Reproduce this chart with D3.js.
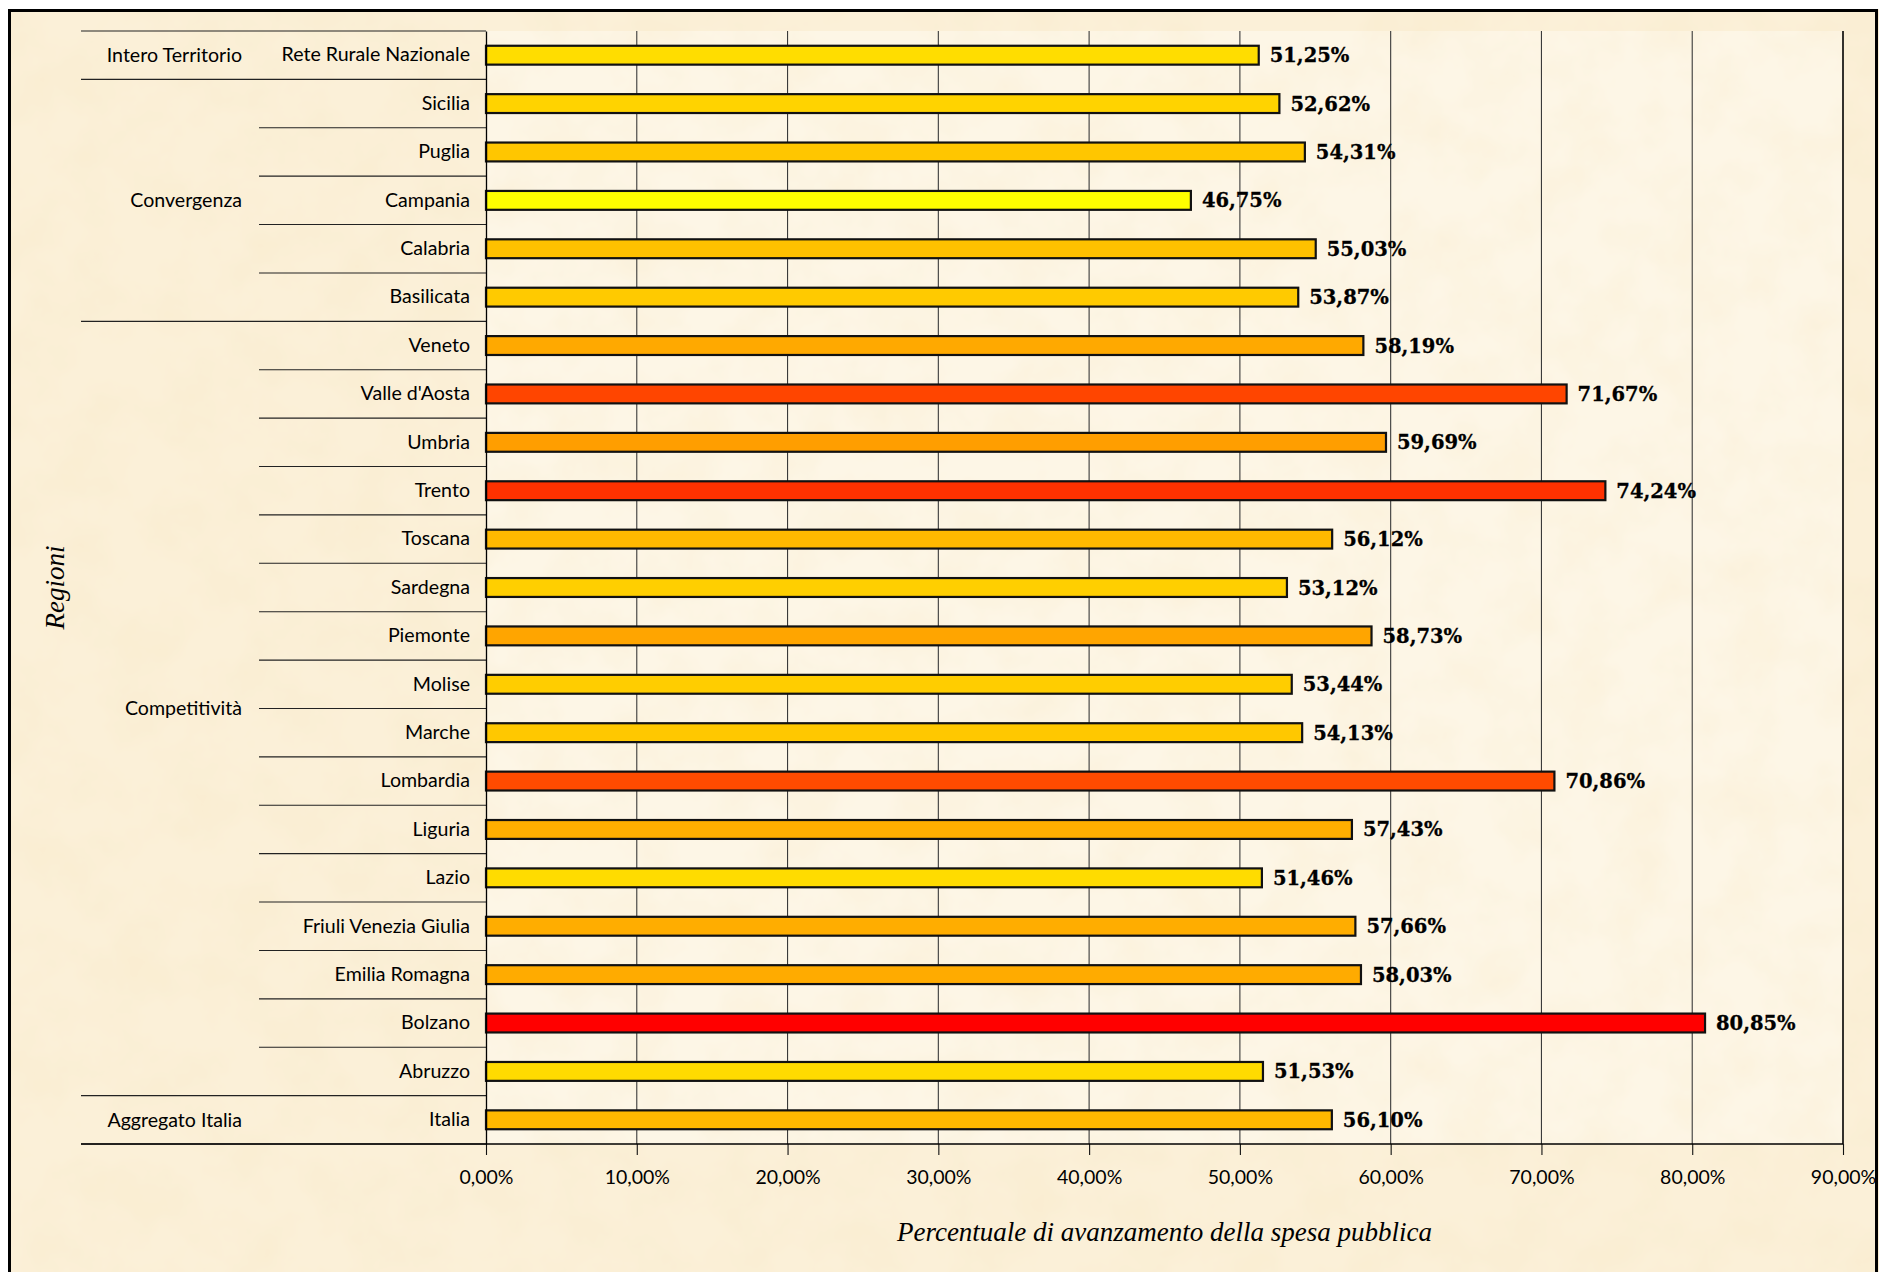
<!DOCTYPE html>
<html>
<head>
<meta charset="utf-8">
<script src="https://cdn.jsdelivr.net/npm/d3@7"></script>
<style>
  html, body { margin: 0; padding: 0; background: #ffffff; }
  svg { display: block; }
</style>
</head>
<body>
<svg id="chart" width="1879" height="1272"></svg>
<script>
// Regions, in display order from top to bottom
const regions = [
  "Rete Rurale Nazionale", "Sicilia", "Puglia", "Campania", "Calabria", "Basilicata",
  "Veneto", "Valle d'Aosta", "Umbria", "Trento", "Toscana", "Sardegna", "Piemonte",
  "Molise", "Marche", "Lombardia", "Liguria", "Lazio", "Friuli Venezia Giulia",
  "Emilia Romagna", "Bolzano", "Abruzzo", "Italia"
];
// Percentuale di avanzamento della spesa pubblica (%)
const values = [
  51.25, 52.62, 54.31, 46.75, 55.03, 53.87,
  58.19, 71.67, 59.69, 74.24, 56.12, 53.12, 58.73,
  53.44, 54.13, 70.86, 57.43, 51.46, 57.66,
  58.03, 80.85, 51.53, 56.10
];
// Outer level of the category axis: group name and number of regions it spans
const groupNames = ["Intero Territorio", "Convergenza", "Competitività", "Aggregato Italia"];
const groupSizes = [1, 5, 16, 1];
const xTicks = [0, 10, 20, 30, 40, 50, 60, 70, 80, 90];

const svg = d3.select("#chart");
const W = 1879, H = 1272;
const plot = { left: 486, right: 1843, top: 31, bottom: 1144 };
const groupLeft = 81, regionColLeft = 259;
const sansFont = "Lato, 'Open Sans', sans-serif";
const serifFont = "'Liberation Serif', 'Times New Roman', serif";

const itLocale = d3.formatLocale({ decimal: ",", thousands: ".", grouping: [3], currency: ["€", ""] });
const pct = v => itLocale.format(".2%")(v / 100);

// Parchment texture
const defs = svg.append("defs");
const f = defs.append("filter").attr("id", "paper")
  .attr("x", 0).attr("y", 0).attr("width", "100%").attr("height", "100%");
f.append("feTurbulence").attr("type", "fractalNoise")
  .attr("baseFrequency", "0.018").attr("numOctaves", 4).attr("seed", 11).attr("result", "n");
f.append("feColorMatrix").attr("in", "n").attr("type", "matrix")
  .attr("values", "0 0 0 0 0.92  0 0 0 0 0.78  0 0 0 0 0.52  0.45 0 0 0 -0.16");

svg.append("rect").attr("x", 8).attr("y", 9).attr("width", W).attr("height", H)
  .attr("fill", "#fbf0d8");
svg.append("rect").attr("x", plot.left).attr("y", plot.top)
  .attr("width", plot.right - plot.left).attr("height", plot.bottom - plot.top)
  .attr("fill", "#fdf6e6");
svg.append("rect").attr("x", 8).attr("y", 9).attr("width", W).attr("height", H)
  .attr("fill", "#fff").attr("filter", "url(#paper)");

// Scales
const x = d3.scaleLinear().domain([0, 90]).range([plot.left, plot.right]);
const yRow = d3.scaleBand().domain(regions).range([plot.top, plot.bottom]);
const y = d3.scaleBand().domain(regions).range([plot.top, plot.bottom])
  .paddingInner(0.61).paddingOuter(0.305);
const color = d3.scaleLinear().domain([d3.min(values), d3.max(values)])
  .range(["#ffff00", "#ff0000"]);

// Vertical gridlines
svg.append("g").selectAll("line").data(xTicks.slice(1)).join("line")
  .attr("x1", d => x(d)).attr("x2", d => x(d))
  .attr("y1", plot.top).attr("y2", plot.bottom)
  .attr("stroke", d => d === 90 ? "#000" : "#3a3a3a")
  .attr("stroke-width", d => d === 90 ? 1.6 : 1.1);

// Category separators (inner level at every row, outer level at group edges)
const rowEdges = d3.range(regions.length + 1).map(i => plot.top + i * yRow.step());
svg.append("g").selectAll("line").data(rowEdges).join("line")
  .attr("x1", regionColLeft).attr("x2", plot.left)
  .attr("y1", d => d).attr("y2", d => d)
  .attr("stroke", "#222").attr("stroke-width", 1.1);
const groupEdges = [0, ...d3.cumsum(groupSizes)];
svg.append("g").selectAll("line").data(groupEdges).join("line")
  .attr("x1", groupLeft).attr("x2", regionColLeft)
  .attr("y1", d => rowEdges[d]).attr("y2", d => rowEdges[d])
  .attr("stroke", "#222").attr("stroke-width", 1.1);

// Bars
svg.append("g").selectAll("rect").data(regions).join("rect")
  .attr("x", x(0))
  .attr("y", d => y(d))
  .attr("width", (d, i) => x(values[i]) - x(0))
  .attr("height", y.bandwidth())
  .attr("fill", (d, i) => color(values[i]))
  .attr("stroke", "#111").attr("stroke-width", 2.2);

// Value labels
svg.append("g").selectAll("text").data(regions).join("text")
  .attr("x", (d, i) => x(values[i]) + 11)
  .attr("y", d => y(d) + y.bandwidth() / 2)
  .attr("dy", "0.36em")
  .attr("font-family", "'DejaVu Serif', serif").attr("font-weight", "bold")
  .attr("font-size", 19.5).attr("fill", "#000")
  .attr("stroke", "#000").attr("stroke-width", 0.3)
  .text((d, i) => pct(values[i]));

// X axis
const xAxis = svg.append("g").attr("transform", `translate(0,${plot.bottom})`)
  .call(d3.axisBottom(x).tickValues(xTicks).tickFormat(pct).tickSize(11).tickPadding(15));
xAxis.select(".domain").remove();
xAxis.selectAll(".tick line").attr("stroke", "#111").attr("stroke-width", 1.1);
xAxis.selectAll("text").attr("font-family", sansFont)
  .attr("font-size", 19.5).attr("fill", "#000");
svg.append("line").attr("x1", groupLeft).attr("x2", plot.right)
  .attr("y1", plot.bottom).attr("y2", plot.bottom)
  .attr("stroke", "#000").attr("stroke-width", 1.3);

// Y axis (inner level: regions)
const yAxis = svg.append("g").attr("transform", `translate(${plot.left},0)`)
  .call(d3.axisLeft(yRow).tickSize(0).tickPadding(16));
yAxis.select(".domain").attr("stroke", "#000").attr("stroke-width", 1.3);
yAxis.selectAll("text").attr("font-family", sansFont)
  .attr("font-size", 19.6).attr("fill", "#000");

// Outer level: groups
svg.append("g").selectAll("text").data(groupNames).join("text")
  .attr("x", 242)
  .attr("y", (d, i) => (rowEdges[groupEdges[i]] + rowEdges[groupEdges[i + 1]]) / 2)
  .attr("dy", "0.35em").attr("text-anchor", "end")
  .attr("font-family", sansFont)
  .attr("font-size", 19.6).attr("fill", "#000")
  .text(d => d);

// Axis titles
svg.append("text")
  .attr("x", (plot.left + plot.right) / 2).attr("y", 1241)
  .attr("text-anchor", "middle")
  .attr("font-family", serifFont)
  .attr("font-style", "italic").attr("font-size", 27).attr("fill", "#000")
  .text("Percentuale di avanzamento della spesa pubblica");
svg.append("text")
  .attr("transform", `translate(64,${(plot.top + plot.bottom) / 2}) rotate(-90)`)
  .attr("text-anchor", "middle")
  .attr("font-family", serifFont)
  .attr("font-style", "italic").attr("font-size", 27).attr("fill", "#000")
  .text("Regioni");

// Frame
svg.append("rect").attr("x", 9.5).attr("y", 10.5).attr("width", 1867).attr("height", H + 20)
  .attr("fill", "none").attr("stroke", "#000").attr("stroke-width", 3);
</script>
</body>
</html>
